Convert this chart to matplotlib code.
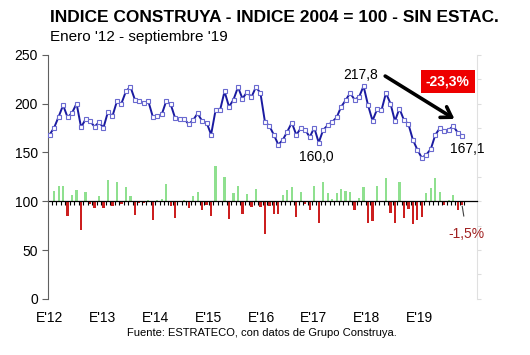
import matplotlib
matplotlib.use("Agg")
import matplotlib.pyplot as plt
import numpy as np

plt.rcParams['font.family'] = ['Liberation Sans', 'DejaVu Sans']

# ---- data ----
index_values = [
    168.2, 175.3, 186.5, 198.3, 185.8, 190.5, 200.0, 175.7, 183.8, 182.0, 176.3, 180.8,
    175.3, 191.5, 187.1, 202.3, 200.0, 212.4, 217.2, 204.0, 202.3, 200.6, 202.3, 186.5,
    187.1, 188.9, 202.6, 199.0, 184.8, 183.8, 184.4, 178.7, 183.1, 189.9, 182.0, 180.4,
    168.2, 193.2, 193.2, 212.4, 196.6, 204.0, 216.8, 205.0, 211.7, 206.7, 216.8, 210.7,
    181.4, 177.0, 167.9, 157.8, 162.9, 171.3, 180.4, 167.9, 174.7, 173.0, 165.6, 175.3,
    160.0, 173.0, 177.7, 181.1, 185.8, 196.6, 203.3, 210.7, 204.0, 206.7, 217.8, 198.3,
    182.4, 193.9, 193.2, 210.7, 200.0, 182.0, 194.9, 183.1, 179.0, 162.9, 152.7, 144.3,
    147.7, 153.4, 167.9, 174.7, 172.3, 173.0, 177.0, 170.2, 167.1,
]
monthly_change_pct = [
    0.0, 4.1, 6.4, 6.4, -6.1, 2.4, 4.6, -11.6, 3.9, -1.0, -2.9, 2.0,
    -2.7, 8.8, -2.0, 8.0, -1.0, 5.7, 2.3, -5.7, -0.7, -0.8, 0.7, -7.8,
    0.3, 0.95, 7.1, -1.8, -6.8, -0.5, 0.3, -2.9, 2.3, 3.7, -3.8, -1.4,
    -6.1, 14.6, 0.0, 9.8, -7.2, 3.4, 6.1, -5.4, 3.1, -2.4, 4.9, -2.3,
    -13.6, -2.0, -5.2, -5.2, 2.7, 4.4, 5.7, -6.5, 3.7, -1.0, -3.8, 6.4,
    -8.8, 8.0, 3.4, 1.1, 3.4, 5.0, 4.1, 3.7, -3.8, 1.4, 5.7, -8.8,
    -7.9, 6.4, -0.4, 9.3, -5.0, -8.8, 7.8, -6.7, -3.1, -9.5, -7.6, -6.5,
    3.4, 5.4, 9.5, 3.7, -1.4, 0.3, 2.7, -3.4, -1.5,
]
year_labels = ["E'12", "E'13", "E'14", "E'15", "E'16", "E'17", "E'18", "E'19"]

title = "INDICE CONSTRUYA - INDICE 2004 = 100 - SIN ESTAC."
subtitle = "Enero '12 - septiembre '19"
source = "Fuente: ESTRATECO, con datos de Grupo Construya."

# ---- figure ----
fig = plt.figure(figsize=(5.30, 3.55), dpi=100)
ax = fig.add_axes([0.090, 0.158, 0.810, 0.688])
ax2 = ax.twinx()
ax.set_zorder(ax2.get_zorder() + 1)
ax.patch.set_visible(False)

n = len(index_values)
x = np.arange(n)
chg = np.array(monthly_change_pct)

colors = ['#8fe08f' if v >= 0 else '#cc1f1f' for v in chg]
ax2.bar(x, chg, width=0.5, color=colors, linewidth=0)
ax2.set_ylim(-40, 60)
ax2.set_yticks(np.arange(-40, 61, 10))
ax2.set_yticklabels([])
ax2.tick_params(axis='y', length=3, color='#dddddd', direction='out')
for s in ['top', 'left', 'bottom']:
    ax2.spines[s].set_visible(False)
ax2.spines['right'].set_color('#e0e0e0')

ax.plot(x, index_values, color='#1a1aa0', lw=1.4, marker='s', markersize=3.0,
        markerfacecolor='white', markeredgecolor='#6a6ad0', markeredgewidth=0.8, zorder=3)

ax.set_ylim(0, 250)
ax.set_xlim(-0.44, 95.3)
ax.set_yticks(np.arange(0, 251, 50))
ax.tick_params(axis='y', length=4, pad=3, labelsize=10, color='#606060')
for s in ['top', 'right', 'bottom']:
    ax.spines[s].set_visible(False)
ax.spines['left'].set_color('#606060')

label_step = 11.77
ax.set_xticks(np.arange(len(year_labels)) * label_step + 0.07)
ax.set_xticklabels(year_labels, fontsize=10)
ax.tick_params(axis='x', length=0, pad=9)

# baseline with monthly ticks at 100
sec = ax.secondary_xaxis(100 / 250)
sec.set_xticks(np.arange(n + 1) - 0.5)
sec.set_xticklabels([])
sec.tick_params(axis='x', length=3, width=0.8, color='black', direction='out')
sec.spines['bottom'].set_color('black')
sec.spines['bottom'].set_linewidth(0.9)

# annotations
ax.annotate("217,8", xy=(70, index_values[70]), xytext=(-3, 11), textcoords='offset pixels',
            ha='center', va='center', fontsize=10)
ax.annotate("160,0", xy=(60, index_values[60]), xytext=(-2, -14), textcoords='offset pixels',
            ha='center', va='center', fontsize=10)
ax.annotate("167,1", xy=(92, index_values[92]), xytext=(5, -13), textcoords='offset pixels',
            ha='center', va='center', fontsize=10)
ax.annotate("", xy=(90.8, 182.7), xytext=(74.3, 229.6),
            arrowprops=dict(arrowstyle='->,head_length=0.7,head_width=0.45', lw=2.6, color='black'))
ax.text(88.8, 222.4, "-23,3%", ha='center', va='center', fontsize=10, fontweight='bold',
        color='white', bbox=dict(boxstyle='square,pad=0.35', fc='#ee0000', ec='none'))
ax2.annotate("-1,5%", xy=(92, chg[92] - 0.5), xytext=(93, -13.5), ha='center', va='center',
             fontsize=10, color='#a02020',
             arrowprops=dict(arrowstyle='-', color='#404040', lw=0.8, shrinkA=6, shrinkB=0))

fig.text(50 / 530, 1 - 18 / 355, title, fontsize=12.5, fontweight='bold', ha='left', va='center')
fig.text(50 / 530, 1 - 37 / 355, subtitle, fontsize=11, ha='left', va='center')
fig.text(262 / 530, 1 - 333 / 355, source, fontsize=8, ha='center', va='center')

fig.savefig("out.png", dpi=100)
